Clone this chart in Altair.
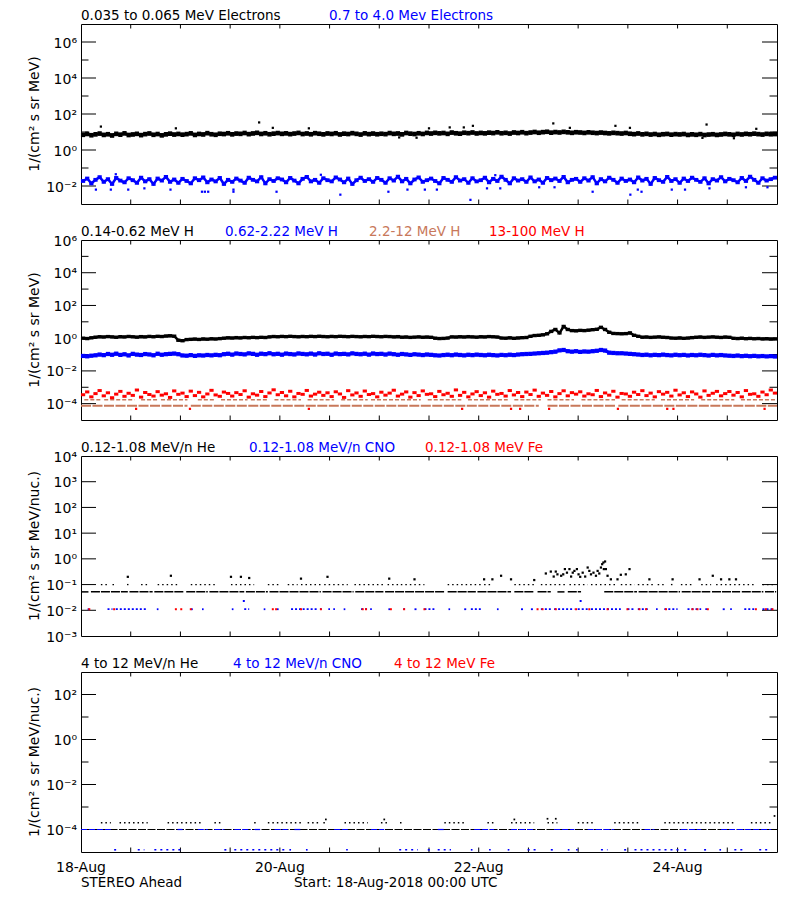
import altair as alt
import pandas as pd

# ---------------- layout / style constants ----------------
W, H = 696, 180
FONT = "DejaVu Sans"
FS = 13.5
FS_AX = 14
TY = -4
BLACK, BLUE, RED, BROWN = "#000000", "#0000ff", "#ff0000", "#c8785a"

# ---------------- axis text ----------------
x_label_hours = [0, 48, 96, 144]
x_label_text = ["18-Aug", "20-Aug", "22-Aug", "24-Aug"]
x_tick_hours = [12, 24, 36, 48, 60, 72, 84, 96, 108, 120, 132, 144, 156]

# ---------------- panel 1 : electrons (hourly values) ----------------
e_035_065 = [
    7.0, 7.8, 6.6, 7.4, 8.2, 6.9, 7.5, 6.4, 7.9, 7.1, 8.4, 6.8,
    7.3, 7.9, 6.7, 7.6, 8.3, 7.0, 7.7, 6.5, 7.4, 8.1, 7.2, 7.8,
    7.1, 7.6, 8.4, 6.9, 7.8, 7.3, 8.6, 7.5, 7.0, 8.0, 7.7, 8.5,
    7.4, 8.2, 7.9, 8.8, 7.6, 8.3, 9.0, 7.8, 8.5, 7.5, 8.1, 8.7,
    7.9, 8.4, 7.6, 8.2, 8.9, 7.7, 8.3, 7.5, 8.6, 8.0, 7.4, 8.3,
    7.8, 8.5, 7.3, 8.1, 7.7, 8.6, 7.9, 7.2, 8.4, 7.6, 8.2, 7.5,
    8.0, 7.6, 8.7, 7.9, 8.3, 7.4, 8.8, 8.1, 7.7, 8.5, 7.8, 8.9,
    8.2, 9.0, 8.4, 8.8, 7.9, 9.3, 8.5, 8.1, 9.1, 8.6, 9.4, 8.3,
    8.9, 8.4, 9.2, 8.7, 9.6, 8.5, 9.0, 8.2, 9.4, 8.8, 9.7, 8.6,
    9.3, 10.0, 9.1, 9.8, 10.3, 9.2, 9.9, 9.4, 10.2, 9.6, 9.0, 9.7,
    9.4, 8.9, 9.6, 9.1, 8.7, 9.3, 8.8, 8.4, 9.0, 8.6, 8.2, 8.8,
    8.0, 7.6, 8.3, 7.4, 7.9, 7.2, 7.7, 7.0, 7.5, 7.8, 7.1, 7.6,
    7.3, 7.7, 6.9, 7.4, 7.0, 7.6, 6.8, 7.2, 7.5, 6.9, 7.3, 7.8,
    7.4, 7.0, 7.8, 7.3, 7.9, 7.5, 8.1, 7.6, 7.2, 7.9, 7.5, 7.7,
]
e_035_065_out_h = [4.8, 22.9, 43.0, 46.3, 55.0, 76.8, 81.0, 84.0, 89.0, 92.4,
                   94.6, 114.0, 118.0, 129.0, 132.5, 150.0, 151.0, 157.6, 163.0]
e_035_065_out_v = [20, 16, 34, 17, 16, 5.0, 4.8, 16, 18, 18,
                   22, 30, 17, 22, 17, 4.7, 26, 4.5, 15]

e_07_40 = [
    0.019, 0.026, 0.014, 0.022, 0.031, 0.017, 0.024, 0.013, 0.028, 0.020, 0.016, 0.027,
    0.021, 0.015, 0.029, 0.018, 0.024, 0.013, 0.026, 0.020, 0.032, 0.017, 0.023, 0.015,
    0.025, 0.019, 0.014, 0.027, 0.021, 0.030, 0.016, 0.023, 0.018, 0.028, 0.013, 0.022,
    0.017, 0.026, 0.020, 0.015, 0.029, 0.022, 0.018, 0.031, 0.014, 0.024, 0.019, 0.027,
    0.023, 0.016, 0.028, 0.020, 0.014, 0.025, 0.032, 0.018, 0.022, 0.015, 0.027, 0.021,
    0.018, 0.030, 0.023, 0.016, 0.026, 0.013, 0.021, 0.029, 0.019, 0.024, 0.017, 0.028,
    0.022, 0.015, 0.027, 0.020, 0.033, 0.018, 0.025, 0.014, 0.023, 0.030, 0.017, 0.021,
    0.026, 0.019, 0.014, 0.028, 0.022, 0.017, 0.031, 0.020, 0.024, 0.015, 0.027, 0.018,
    0.021, 0.029, 0.016, 0.025, 0.019, 0.033, 0.022, 0.014, 0.027, 0.020, 0.024, 0.017,
    0.030, 0.018, 0.023, 0.015, 0.028, 0.021, 0.026, 0.019, 0.032, 0.016, 0.022, 0.025,
    0.017, 0.027, 0.020, 0.031, 0.014, 0.024, 0.018, 0.029, 0.022, 0.015, 0.026, 0.019,
    0.023, 0.016, 0.030, 0.020, 0.025, 0.013, 0.028, 0.021, 0.017, 0.032, 0.019, 0.024,
    0.015, 0.026, 0.019, 0.029, 0.022, 0.017, 0.027, 0.014, 0.024, 0.020, 0.031, 0.018,
    0.025, 0.021, 0.016, 0.028, 0.019, 0.033, 0.022, 0.015, 0.027, 0.020, 0.024, 0.029,
]
e_07_40_out_h = [3.6, 7.2, 11.4, 15.3, 21.6, 29.2, 29.9, 30.7, 36.8, 36.8,
                 47.2, 62.6, 74.2, 78.8, 83.0, 85.9, 94.0, 98.0, 101.2, 110.6,
                 114.3, 123.5, 132.6, 134.4, 135.3, 142.6, 145.8, 151.7, 160.5, 165.7,
                 8.4, 57.9, 100.0]
e_07_40_out_v = [0.0063, 0.0063, 0.0063, 0.0074, 0.0063, 0.0048, 0.0048, 0.0048, 0.0063, 0.0048,
                 0.0048, 0.0033, 0.0048, 0.0063, 0.0063, 0.0063, 0.0017, 0.0074, 0.0074, 0.0085,
                 0.0085, 0.0048, 0.0033, 0.0063, 0.0048, 0.0063, 0.0063, 0.0074, 0.0085, 0.0085,
                 0.045, 0.042, 0.040]

# ---------------- panel 2 : protons (hourly values) ----------------
h_014_062 = [
    1.0, 0.95, 1.05, 1.15, 1.22, 1.18, 1.25, 1.2, 1.14, 1.23, 1.19, 1.27,
    1.21, 1.16, 1.24, 1.2, 1.28, 1.22, 1.3, 1.26, 1.35, 1.4, 1.32, 0.75,
    0.7, 0.82, 0.85, 0.88, 0.84, 0.9, 0.87, 0.92, 0.89, 0.94, 1.0, 1.05,
    1.02, 1.08, 1.04, 1.1, 1.06, 1.12, 1.08, 1.13, 1.1, 1.2, 1.26, 1.22,
    1.28, 1.24, 1.3, 1.25, 1.21, 1.27, 1.23, 1.29, 1.25, 1.31, 1.26, 1.22,
    1.28, 1.24, 1.3, 1.27, 1.23, 1.29, 1.25, 1.21, 1.27, 1.24, 1.3, 1.26,
    1.22, 1.28, 1.25, 1.2, 1.24, 1.15, 1.18, 1.12, 1.16, 1.2, 1.14, 1.17,
    1.13, 1.0, 0.95, 0.97, 1.02, 1.2, 1.17, 1.22, 1.18, 1.24, 1.2, 1.16,
    1.22, 1.19, 1.25, 1.21, 1.17, 1.02, 1.0, 1.05, 0.98, 1.03, 1.07, 1.1,
    1.3, 1.45, 1.5, 1.6, 1.85, 2.6, 3.4, 2.1, 5.2, 3.4, 2.9, 2.8,
    3.0, 2.9, 3.1, 3.3, 3.5, 4.6, 3.4, 2.3, 1.95, 1.9, 1.85, 1.9,
    2.1, 1.5, 1.3, 1.15, 1.18, 1.12, 1.16, 1.2, 1.14, 1.1, 1.02, 1.0,
    1.04, 0.98, 1.02, 1.08, 1.14, 1.18, 1.12, 1.16, 1.2, 1.15, 1.11, 1.17,
    1.13, 0.98, 0.95, 1.0, 0.93, 0.97, 0.92, 0.95, 0.9, 0.93, 0.88, 0.9,
]
h_062_222 = [
    0.082, 0.078, 0.085, 0.09, 0.1, 0.092, 0.108, 0.097, 0.113, 0.095, 0.104, 0.088,
    0.11, 0.099, 0.094, 0.107, 0.101, 0.09, 0.112, 0.097, 0.105, 0.11, 0.115, 0.105,
    0.088, 0.085, 0.092, 0.083, 0.09, 0.087, 0.094, 0.089, 0.096, 0.091, 0.105, 0.112,
    0.099, 0.116, 0.108, 0.102, 0.118, 0.11, 0.097, 0.113, 0.106, 0.12, 0.104, 0.111,
    0.098, 0.115, 0.107, 0.101, 0.117, 0.109, 0.103, 0.114, 0.1, 0.119, 0.108, 0.112,
    0.097, 0.115, 0.106, 0.11, 0.102, 0.118, 0.109, 0.104, 0.113, 0.099, 0.116, 0.107,
    0.111, 0.1, 0.114, 0.105, 0.097, 0.108, 0.102, 0.095, 0.104, 0.099, 0.093, 0.101,
    0.096, 0.09, 0.087, 0.093, 0.098, 0.091, 0.1, 0.094, 0.089, 0.097, 0.092, 0.099,
    0.094, 0.09, 0.097, 0.092, 0.088, 0.095, 0.091, 0.098, 0.093, 0.1, 0.105, 0.108,
    0.11, 0.115, 0.12, 0.125, 0.13, 0.14, 0.15, 0.18, 0.19, 0.16, 0.15, 0.16,
    0.145, 0.155, 0.15, 0.16, 0.17, 0.19, 0.175, 0.13, 0.125, 0.12, 0.12, 0.115,
    0.11, 0.105, 0.1, 0.094, 0.098, 0.09, 0.096, 0.092, 0.099, 0.093, 0.089, 0.097,
    0.091, 0.095, 0.088, 0.094, 0.09, 0.097, 0.092, 0.087, 0.095, 0.089, 0.093, 0.088,
    0.085, 0.082, 0.087, 0.08, 0.084, 0.079, 0.083, 0.078, 0.081, 0.077, 0.08, 0.076,
]
# 13-100 MeV H, in units of 1e-4
h_13_100_e4 = [
    3.5, 5.2, 2.6, 4.1, 6.3, 3.0, 4.6, 2.3, 3.8, 5.6, 2.8, 4.3,
    3.2, 6.8, 2.5, 4.8, 3.6, 2.9, 5.4, 3.3, 4.0, 2.4, 6.0, 3.7,
    4.4, 2.7, 5.8, 3.1, 4.9, 2.6, 3.9, 6.5, 3.4, 2.8, 5.1, 4.2,
    2.9, 4.7, 3.6, 6.1, 2.5, 4.0, 3.3, 5.5, 2.7, 4.5, 7.0, 3.5,
    4.8, 3.0, 5.7, 2.6, 4.2, 3.7, 6.4, 2.9, 3.8, 5.0, 3.2, 4.6,
    2.7, 5.3, 3.9, 2.4, 6.2, 3.4, 4.5, 2.8, 5.9, 3.6, 4.1, 2.6,
    5.0, 3.3, 4.4, 6.6, 2.9, 3.8, 5.2, 2.5, 4.7, 3.1, 6.0, 3.7,
    4.0, 2.7, 5.6, 3.5, 4.3, 2.8, 6.9, 3.2, 4.9, 2.6, 3.9, 5.4,
    3.1, 4.6, 2.5, 5.8, 3.7, 4.2, 2.9, 6.3, 3.4, 4.8, 2.7, 5.1,
    3.6, 6.7, 2.8, 4.4, 3.2, 5.5, 2.6, 4.1, 6.1, 3.0, 4.7, 3.8,
    5.3, 2.9, 4.0, 3.5, 6.4, 2.7, 4.5, 3.3, 5.7, 2.5, 4.2, 3.9,
    2.8, 5.0, 3.6, 6.2, 3.1, 4.4, 2.6, 5.4, 3.8, 4.9, 2.9, 6.6,
    3.4, 4.6, 2.7, 5.2, 3.9, 2.5, 6.0, 3.2, 4.3, 5.6, 3.0, 4.1,
    5.5, 3.3, 4.8, 2.6, 6.3, 3.7, 4.0, 2.8, 5.1, 3.5, 6.8, 4.4,
]
h_13_100_low_h = [13.3, 26.3, 55.0, 92.0, 103.8, 106.0, 113.0, 129.6, 141.5, 143.0, 165.0]
h_13_100_low_v = [4.8e-5, 4.8e-5, 4.8e-5, 4.8e-5, 4.8e-5, 4.8e-5, 4.8e-5, 4.8e-5, 4.8e-5, 4.8e-5, 4.8e-5]
# 2.2-12 MeV H: two count levels, given as runs (start hour, end hour)
h_22_12_hi_level = 1.7e-4
h_22_12_hi_start = [0.8, 5.6, 14.5, 19.3, 28.2, 33.8, 41.0, 46.7, 54.7, 62.8,
                    70.0, 83.7, 93.4, 104.6, 112.6, 120.8, 130.5, 140.0, 149.7, 159.3]
h_22_12_hi_end = [4.8, 12.9, 18.5, 25.7, 32.2, 40.2, 45.0, 53.1, 61.1, 69.2,
                  82.0, 91.8, 103.0, 111.0, 119.0, 128.9, 138.5, 148.0, 157.7, 168.0]
h_22_12_lo_level = 7.3e-5
h_22_12_lo_start = [0.0, 26.5, 112.6, 129.7]
h_22_12_lo_end = [25.7, 110.5, 129.0, 168.0]

# ---------------- panel 3 : 0.12-1.08 MeV/n ions ----------------
he_low_level = 0.052
he_low_start = [0.2, 2.4, 11.7, 17.7, 25.4, 31.0, 39.8, 45.5, 58.3, 66.2, 73.4, 88.5,
                95.7, 104.6, 110.2, 115.0, 117.5, 126.3, 134.6, 145.0, 152.3, 159.5, 165.1]
he_low_end = [1.8, 11.3, 17.3, 24.9, 30.6, 39.4, 45.1, 57.9, 65.8, 73.0, 87.7, 95.3,
              103.8, 109.4, 113.4, 116.7, 120.7, 134.2, 144.6, 151.9, 159.1, 164.7, 167.8]
he_two_level = 0.1
he_two_start = [4.8, 7.6, 11.1, 14.5, 18.5, 26.5, 36.2, 45.1, 49.9, 53.1, 58.7, 66.0, 74.0,
                77.2, 88.5, 97.3, 104.6, 111.0, 117.9, 123.1, 130.3, 134.4, 139.2, 142.4,
                144.8, 149.7, 153.3, 164.5]
he_two_end = [6.4, 8.4, 11.5, 16.1, 23.3, 33.0, 41.8, 48.3, 52.3, 57.9, 64.4, 73.2, 77.2,
              82.9, 96.5, 98.9, 109.4, 117.5, 122.3, 129.5, 133.6, 138.4, 140.8, 143.2,
              148.0, 152.1, 162.5, 167.3]
he_high_h = [11.3, 21.7, 36.2, 38.6, 40.6, 53.1, 59.5, 74.4, 80.5, 97.3, 99.3,
             101.4, 103.8, 109.4, 137.2, 142.8, 149.3, 152.5, 154.5, 156.5, 158.1,
             112.2, 113.4, 114.1, 114.6, 115.0, 115.9, 116.4, 116.8, 117.3, 117.9,
             118.3, 118.7, 119.1, 119.7, 120.1, 120.5, 121.1, 121.7, 122.3, 122.7,
             123.1, 123.7, 124.3, 124.7, 125.1, 125.5, 125.8, 126.1, 126.5, 126.2,
             126.7, 127.1, 127.9, 129.5, 130.3, 131.5, 132.4]
he_high_v = [0.2, 0.22, 0.2, 0.2, 0.18, 0.17, 0.2, 0.17, 0.16, 0.16, 0.16,
             0.22, 0.16, 0.15, 0.16, 0.16, 0.16, 0.22, 0.16, 0.16, 0.16,
             0.27, 0.32, 0.205, 0.32, 0.25, 0.22, 0.25, 0.40, 0.29, 0.40,
             0.205, 0.29, 0.34, 0.40, 0.25, 0.20, 0.29, 0.205, 0.46, 0.34,
             0.25, 0.29, 0.22, 0.34, 0.27, 0.46, 0.62, 0.72, 0.79, 0.40,
             0.40, 0.22, 0.16, 0.16, 0.24, 0.25, 0.40]
cno_low_level = 0.011
cno_low_start = [1.6, 6.4, 8.4, 18.3, 26.5, 29.2, 36.4, 39.4, 44.1, 47.3, 50.7, 53.5, 57.7,
                 59.7, 60.9, 63.4, 67.6, 69.8, 74.2, 77.8, 80.5, 82.9, 88.7, 92.5, 94.1,
                 100.4, 106.2, 108.6, 111.0, 114.2, 119.9, 123.1, 131.9, 134.4, 138.8,
                 140.8, 146.4, 150.7, 154.9, 156.7, 160.1, 164.5]
cno_low_end = [2.0, 7.6, 16.1, 18.7, 27.3, 29.6, 36.8, 40.6, 44.5, 47.7, 53.1, 57.1, 58.1,
               60.1, 61.3, 63.8, 69.2, 70.2, 74.6, 78.2, 81.3, 85.3, 89.1, 93.3, 96.5,
               100.8, 107.0, 109.4, 113.4, 119.1, 122.3, 130.3, 133.6, 136.8, 139.2,
               144.0, 149.7, 151.1, 155.7, 157.1, 162.5, 167.3]
cno_extra_h = [39.3, 120.6]
cno_extra_v = [0.023, 0.023]
fe_low_h = [2.0, 8.0, 22.9, 24.2, 26.5, 46.3, 47.1, 53.1, 57.9, 68.0, 68.8, 74.8,
            78.0, 82.9, 110.2, 111.4, 114.6, 119.5, 122.7, 127.1, 131.9, 134.8,
            136.4, 141.2, 147.6, 148.8, 151.3, 162.9, 165.3, 166.9]
fe_low_v = [0.011] * 30

# ---------------- panel 4 : 4-12 MeV/n ions ----------------
he4_line_level = 1.0e-4
he4_line_start = [0.0]
he4_line_end = [168.0]
cno4_line_start = [0.0, 23.3, 28.2, 32.2, 37.0, 41.8, 46.7, 51.5, 61.1, 70.0, 86.1, 94.9,
                   103.8, 114.2, 122.3, 136.0, 144.8, 154.5]
cno4_line_end = [7.2, 24.5, 30.6, 34.6, 41.0, 43.4, 49.9, 53.1, 64.4, 73.2, 87.7, 99.7,
                 109.4, 119.1, 128.7, 138.4, 149.7, 166.6]
he4_two_level = 2.0e-4
he4_two_start = [4.8, 9.3, 20.9, 32.2, 41.8, 45.1, 54.7, 58.5, 63.6, 72.4, 77.0, 87.7,
                 98.1, 103.8, 112.6, 119.9, 128.7, 140.8, 161.7]
he4_two_end = [7.2, 16.1, 29.0, 33.8, 42.6, 53.1, 57.9, 58.9, 69.2, 74.0, 77.4, 92.5,
               99.7, 109.4, 115.0, 123.9, 135.2, 157.7, 166.6]
he4_high_h = [59.1, 73.2, 104.6, 112.6, 114.6, 167.4]
he4_high_v = [2.8e-4, 2.8e-4, 2.8e-4, 3.0e-4, 3.0e-4, 4.0e-4]
cno4_low_level = 1.25e-5
cno4_low_start = [8.0, 13.7, 17.7, 34.6, 37.0, 50.3, 54.3, 64.0, 76.8, 83.7, 86.1, 94.1,
                  98.5, 103.0, 107.8, 113.4, 117.5, 119.5, 125.5, 131.1, 133.6, 145.6,
                  150.4, 154.1, 157.7, 163.7]
cno4_low_end = [8.8, 15.3, 24.5, 35.4, 49.1, 50.7, 54.7, 64.4, 81.3, 84.5, 89.3, 94.5,
                98.9, 103.4, 110.2, 114.2, 117.9, 119.9, 127.1, 131.9, 144.8, 146.4,
                151.3, 154.5, 160.1, 166.6]

# ---------------- helpers ----------------
XS = alt.Scale(domain=[0, 168], nice=False, zero=False)
SUP = str.maketrans("-0123456789", "⁻⁰¹²³⁴⁵⁶⁷⁸⁹")


def sup(n):
    return str(n).translate(SUP)


def rect(half_h):
    return f"M-0.5,-{half_h}H0.5V{half_h}H-0.5Z"


def hourly_df(vals, scale=1.0):
    return pd.DataFrame({"h": [i + 0.5 for i in range(len(vals))],
                         "v": [v * scale for v in vals]})


def hourly(vals, ys, color, path, size=72, scale=1.0):
    return alt.Chart(hourly_df(vals, scale)).mark_point(
        shape=path, size=size, filled=True, color=color, opacity=1, strokeWidth=0).encode(
        x=alt.X("h:Q", scale=XS, axis=None), y=alt.Y("v:Q", scale=ys, axis=None))


def trace(vals, ys, color, width, scale=1.0):
    return alt.Chart(hourly_df(vals, scale)).mark_line(
        color=color, strokeWidth=width, opacity=1, strokeJoin="miter").encode(
        x=alt.X("h:Q", scale=XS, axis=None), y=alt.Y("v:Q", scale=ys, axis=None))


def dots(hs, vs, ys, color, size):
    df = pd.DataFrame({"h": hs, "v": vs})
    return alt.Chart(df).mark_square(size=size, color=color, opacity=1).encode(
        x=alt.X("h:Q", scale=XS, axis=None), y=alt.Y("v:Q", scale=ys, axis=None))


def runs(starts, ends, level, ys, color, width, dash=None):
    df = pd.DataFrame({"s": starts, "e": ends, "v": [level] * len(starts)})
    kw = dict(color=color, strokeWidth=width)
    if dash:
        kw["strokeDash"] = dash
    return alt.Chart(df).mark_rule(**kw).encode(
        x=alt.X("s:Q", scale=XS, axis=None), x2="e:Q",
        y=alt.Y("v:Q", scale=ys, axis=None))


def text(t, x, y, color=BLACK, align="left", size=FS, angle=0, baseline="alphabetic"):
    return alt.Chart(pd.DataFrame({"t": [t]})).mark_text(
        align=align, baseline=baseline, font=FONT, fontSize=size, color=color,
        angle=angle).encode(text="t:N", x=alt.value(x), y=alt.value(y))


def frame(ys, label_exps, major_exps, minor_exps, ytitle, show_x):
    lab = pd.DataFrame({"v": [10.0 ** e for e in label_exps],
                        "t": ["10" + sup(e) for e in label_exps]})
    maj = pd.DataFrame({"v": [10.0 ** e for e in major_exps]})
    layers = [
        alt.Chart(lab).mark_text(align="right", baseline="middle", font=FONT,
                                 fontSize=FS_AX, color=BLACK, dy=1.5).encode(
            y=alt.Y("v:Q", scale=ys, axis=None), x=alt.value(-4), text="t:N"),
        text(ytitle, -46.5, H / 2, BLACK, "center", FS_AX, 270, "middle"),
        alt.Chart(maj).mark_rule(color=BLACK, strokeWidth=1).encode(
            y=alt.Y("v:Q", scale=ys, axis=None), x=alt.value(0), x2=alt.value(15)),
        alt.Chart(maj).mark_rule(color=BLACK, strokeWidth=1).encode(
            y=alt.Y("v:Q", scale=ys, axis=None), x=alt.value(W - 15), x2=alt.value(W)),
    ]
    if minor_exps:
        mn = pd.DataFrame({"v": [10.0 ** e for e in minor_exps]})
        layers += [
            alt.Chart(mn).mark_rule(color=BLACK, strokeWidth=1).encode(
                y=alt.Y("v:Q", scale=ys, axis=None), x=alt.value(0), x2=alt.value(7.5)),
            alt.Chart(mn).mark_rule(color=BLACK, strokeWidth=1).encode(
                y=alt.Y("v:Q", scale=ys, axis=None), x=alt.value(W - 7.5), x2=alt.value(W)),
        ]
    xt = pd.DataFrame({"h": x_tick_hours})
    layers += [
        alt.Chart(xt).mark_rule(color=BLACK, strokeWidth=1).encode(
            x=alt.X("h:Q", scale=XS, axis=None), y=alt.value(H - 4.5), y2=alt.value(H)),
        alt.Chart(xt).mark_rule(color=BLACK, strokeWidth=1).encode(
            x=alt.X("h:Q", scale=XS, axis=None), y=alt.value(0), y2=alt.value(4.5)),
    ]
    if show_x:
        xl = pd.DataFrame({"h": x_label_hours, "t": x_label_text})
        layers.append(
            alt.Chart(xl).mark_text(align="center", baseline="alphabetic", font=FONT,
                                    fontSize=FS_AX, color=BLACK).encode(
                x=alt.X("h:Q", scale=XS, axis=None), y=alt.value(H + 20), text="t:N"))
    return layers


# ---------------- panel 1 ----------------
ys1 = alt.Scale(type="log", domain=[1e-3, 1e7], nice=False)
p1 = alt.layer(
    *frame(ys1, [-2, 0, 2, 4, 6], [-2, 0, 2, 4, 6], [-1, 1, 3, 5], "1/(cm² s sr MeV)", False),
    trace(e_035_065, ys1, BLACK, 3),
    hourly(e_035_065, ys1, BLACK, rect(0.55)),
    dots(e_035_065_out_h, e_035_065_out_v, ys1, BLACK, 5),
    trace(e_07_40, ys1, BLUE, 2.5),
    hourly(e_07_40, ys1, BLUE, rect(0.45)),
    dots(e_07_40_out_h, e_07_40_out_v, ys1, BLUE, 5),
    text("0.035 to 0.065 MeV Electrons", 0, TY, BLACK),
    text("0.7 to 4.0 Mev Electrons", 248, TY, BLUE),
).properties(width=W, height=H)

# ---------------- panel 2 ----------------
ys2 = alt.Scale(type="log", domain=[1e-5, 1e6], nice=False)
p2 = alt.layer(
    *frame(ys2, [-4, -2, 0, 2, 4, 6], [-4, -2, 0, 2, 4], [-3, -1, 1, 3, 5],
           "1/(cm² s sr MeV)", False),
    runs(h_22_12_lo_start, h_22_12_lo_end, h_22_12_lo_level, ys2, BROWN, 2, [10, 1.5]),
    runs(h_22_12_hi_start, h_22_12_hi_end, h_22_12_hi_level, ys2, BROWN, 1.5, [4, 2]),
    hourly(h_13_100_e4, ys2, RED, rect(0.35), 72, 1e-4),
    dots(h_13_100_low_h, h_13_100_low_v, ys2, RED, 5),
    trace(h_062_222, ys2, BLUE, 3),
    hourly(h_062_222, ys2, BLUE, rect(0.5)),
    trace(h_014_062, ys2, BLACK, 2.5),
    hourly(h_014_062, ys2, BLACK, rect(0.4)),
    text("0.14-0.62 MeV H", 0, TY, BLACK),
    text("0.62-2.22 MeV H", 144, TY, BLUE),
    text("2.2-12 MeV H", 288, TY, BROWN),
    text("13-100 MeV H", 408, TY, RED),
).properties(width=W, height=H)

# ---------------- panel 3 ----------------
ys3 = alt.Scale(type="log", domain=[1e-3, 1e4], nice=False)
p3 = alt.layer(
    *frame(ys3, [-3, -2, -1, 0, 1, 2, 3, 4], [-2, -1, 0, 1, 2, 3], [],
           "1/(cm² s sr MeV/nuc.)", False),
    runs(he_low_start, he_low_end, he_low_level, ys3, BLACK, 1.5, [9, 1]),
    runs(he_two_start, he_two_end, he_two_level, ys3, BLACK, 1.3, [1.5, 3]),
    dots(he_high_h, he_high_v, ys3, BLACK, 5),
    runs(cno_low_start, cno_low_end, cno_low_level, ys3, BLUE, 1.8, [2, 2]),
    dots(cno_extra_h, cno_extra_v, ys3, BLUE, 4),
    dots(fe_low_h, fe_low_v, ys3, RED, 4),
    text("0.12-1.08 MeV/n He", 0, TY, BLACK),
    text("0.12-1.08 MeV/n CNO", 168, TY, BLUE),
    text("0.12-1.08 MeV Fe", 344, TY, RED),
).properties(width=W, height=H)

# ---------------- panel 4 ----------------
ys4 = alt.Scale(type="log", domain=[1e-5, 1e3], nice=False)
p4 = alt.layer(
    *frame(ys4, [-4, -2, 0, 2], [-4, -2, 0, 2], [-3, -1, 1], "1/(cm² s sr MeV/nuc.)", True),
    runs(he4_line_start, he4_line_end, he4_line_level, ys4, BLACK, 1.2, [8, 1.5]),
    runs(cno4_line_start, cno4_line_end, he4_line_level, ys4, BLUE, 1.2, [6, 2]),
    runs(he4_two_start, he4_two_end, he4_two_level, ys4, BLACK, 1.3, [1.5, 3]),
    dots(he4_high_h, he4_high_v, ys4, BLACK, 3),
    runs(cno4_low_start, cno4_low_end, cno4_low_level, ys4, BLUE, 1.6, [2, 4]),
    text("4 to 12 MeV/n He", 0, TY, BLACK),
    text("4 to 12 MeV/n CNO", 152, TY, BLUE),
    text("4 to 12 MeV Fe", 313, TY, RED),
    text("STEREO Ahead", 0, H + 35, BLACK),
    text("Start: 18-Aug-2018 00:00 UTC", 213, H + 35, BLACK),
).properties(width=W, height=H)

chart = alt.vconcat(p1, p2, p3, p4, spacing=36, bounds="flush").resolve_scale(
    x="independent", y="independent"
).configure_view(stroke=BLACK, strokeWidth=1).properties(
    padding={"left": 19, "top": 0, "right": 10, "bottom": 5},
    background="white",
)

chart.save("out.html", embed_options={"renderer": "svg", "actions": False})
